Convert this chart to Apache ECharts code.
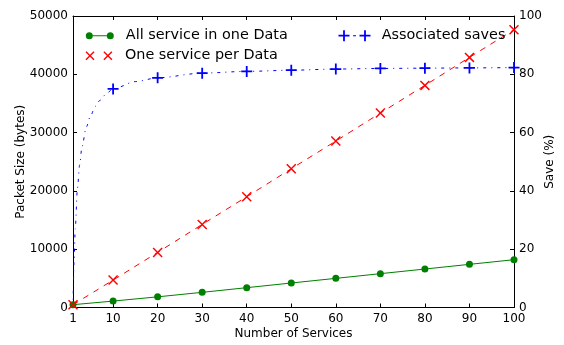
<!DOCTYPE html>
<html>
<head>
<meta charset="utf-8">
<script src="https://cdn.jsdelivr.net/npm/echarts@6/dist/echarts.min.js"></script>
<style>
  html, body { margin: 0; padding: 0; background: #fff; }
  #chart { width: 564px; height: 345px; }
</style>
</head>
<body>
<div id="chart"></div>
<script>
// Packet size for the two packing strategies, by number of services
const services = [1, 10, 20, 30, 40, 50, 60, 70, 80, 90, 100];
const allInOne = [480, 1100, 1830, 2600, 3400, 4200, 5000, 5800, 6600, 7400, 8200];
const perData  = [480, 4700, 9450, 14250, 19000, 23800, 28550, 33350, 38100, 42900, 47650];

// Saving in percent (right axis), sampled densely near the start of the curve
const savesAt = [1, 1.25, 1.5, 2, 2.5, 3, 4, 5, 6, 7, 8, 10, 15, 20, 30, 40, 50, 60, 70, 80, 90, 100];
const saves   = [0, 16, 27, 41, 49, 55, 62, 66, 69, 71, 72.7, 75, 77.5, 78.8, 80.4, 81, 81.4, 81.8, 82, 82.1, 82.2, 82.3];
const savesMarked = [10, 20, 30, 40, 50, 60, 70, 80, 90, 100];

const xTicks = [1, 10, 20, 30, 40, 50, 60, 70, 80, 90, 100];

const FONT = 'DejaVu Sans';
const GREEN = '#008000', RED = '#ff0000', BLUE = '#0000ff';

// --- small path builders for marker glyphs ---
const f = v => v.toFixed(2);
function bar(x1, y1, x2, y2, w) {
  const dx = x2 - x1, dy = y2 - y1, L = Math.hypot(dx, dy);
  const nx = -dy / L * w / 2, ny = dx / L * w / 2;
  return `M${f(x1 + nx)},${f(y1 + ny)}L${f(x2 + nx)},${f(y2 + ny)}L${f(x2 - nx)},${f(y2 - ny)}L${f(x1 - nx)},${f(y1 - ny)}Z`;
}
function cross(cx, cy, s, w) {
  const h = s / 2;
  return bar(cx - h, cy - h, cx + h, cy + h, w) + bar(cx - h, cy + h, cx + h, cy - h, w);
}
function plus(cx, cy, s, w) {
  const h = s / 2;
  return bar(cx - h, cy, cx + h, cy, w) + bar(cx, cy - h, cx, cy + h, w);
}
function dot(cx, cy, r) {
  return `M${f(cx - r)},${f(cy)}A${r},${r} 0 1 0 ${f(cx + r)},${f(cy)}A${r},${r} 0 1 0 ${f(cx - r)},${f(cy)}Z`;
}

const xSymbol = 'path://' + cross(5, 5, 10, 1.6);
const plusSymbol = 'path://' + plus(5.5, 5.5, 11, 1.8);

// legend handles: two markers joined by the series line
const greenIcon = 'path://' + dot(3.5, 3.5, 3.5) + bar(7, 3.5, 21, 3.5, 1) + dot(24.5, 3.5, 3.5);
const redIcon   = 'path://' + cross(4.5, 4.5, 9, 1.5) + cross(24.5, 4.5, 9, 1.5);
const blueIcon  = 'path://' + plus(5.5, 5.5, 11, 1.8) + bar(14.5, 5.5, 17.5, 5.5, 1) + plus(26.5, 5.5, 11, 1.8);

const legendText = { fontFamily: FONT, fontSize: 14.4, color: '#000', lineHeight: 16 };
function legendFor(name, icon, left, top, w, h, pad) {
  return {
    data: [{ name: name, icon: icon }],
    left: left, top: top, padding: 0,
    itemWidth: w, itemHeight: h,
    selectedMode: false,
    textStyle: Object.assign({ padding: [0, 0, 0, pad] }, legendText)
  };
}

const axisText = { fontFamily: FONT, fontSize: 12, color: '#000' };
const spine = { show: true, onZero: false, lineStyle: { color: '#000', width: 1 } };
const tickIn = { show: true, inside: true, length: 4, lineStyle: { color: '#000', width: 1 } };

const chart = echarts.init(document.getElementById('chart'), null, { renderer: 'canvas' });
chart.setOption({
  animation: false,
  backgroundColor: '#fff',
  grid: { left: 73, right: 48, top: 16, bottom: 36, containLabel: false },
  legend: [
    legendFor('All service in one Data', greenIcon, 85.8, 27.7, 28, 7, 7),
    legendFor('One service per Data', redIcon, 85.5, 47.7, 29, 9, 6.5),
    legendFor('Associated saves', blueIcon, 338.5, 27.7, 32, 11, 6.2)
  ],
  xAxis: [
    {
      type: 'value', min: 1, max: 100, position: 'bottom',
      name: 'Number of Services', nameLocation: 'middle', nameGap: 20.5, nameMoveOverlap: false,
      nameTextStyle: axisText,
      axisLine: spine,
      axisTick: Object.assign({ customValues: xTicks }, tickIn),
      axisLabel: Object.assign({ customValues: xTicks, margin: 5 }, axisText),
      splitLine: { show: false }
    },
    {
      type: 'value', min: 1, max: 100, position: 'top',
      axisLine: spine,
      axisTick: Object.assign({ customValues: xTicks }, tickIn),
      axisLabel: { show: false },
      splitLine: { show: false }
    }
  ],
  yAxis: [
    {
      type: 'value', min: 0, max: 50000, interval: 10000, position: 'left',
      name: 'Packet Size (bytes)', nameLocation: 'middle', nameGap: 46, nameMoveOverlap: false,
      nameTextStyle: axisText,
      axisLine: spine, axisTick: tickIn,
      axisLabel: Object.assign({ margin: 5, formatter: v => String(v) }, axisText),
      splitLine: { show: false }
    },
    {
      type: 'value', min: 0, max: 100, interval: 20, position: 'right',
      name: 'Save (%)', nameLocation: 'middle', nameGap: 30, nameMoveOverlap: false,
      nameTextStyle: axisText,
      axisLine: spine, axisTick: tickIn,
      axisLabel: Object.assign({ margin: 5, formatter: v => String(v) }, axisText),
      splitLine: { show: false }
    }
  ],
  series: [
    {
      name: 'All service in one Data', type: 'line',
      xAxisIndex: 0, yAxisIndex: 0,
      data: services.map((x, i) => [x, allInOne[i]]),
      symbol: 'circle', symbolSize: 7, showAllSymbol: true,
      itemStyle: { color: GREEN },
      lineStyle: { color: GREEN, width: 1 }
    },
    {
      name: 'One service per Data', type: 'line',
      xAxisIndex: 0, yAxisIndex: 0,
      data: services.map((x, i) => [x, perData[i]]),
      symbol: xSymbol, symbolSize: 10, showAllSymbol: true,
      itemStyle: { color: RED },
      lineStyle: { color: RED, width: 1, type: [6, 6] }
    },
    {
      name: 'Associated saves', type: 'line',
      xAxisIndex: 0, yAxisIndex: 1,
      smooth: 0.3, smoothMonotone: 'x',
      data: savesAt.map((x, i) => savesMarked.includes(x)
        ? { value: [x, saves[i]] }
        : { value: [x, saves[i]], symbol: 'none' }),
      symbol: plusSymbol, symbolSize: 11, showAllSymbol: true,
      itemStyle: { color: BLUE },
      lineStyle: { color: BLUE, width: 1, type: [3, 5, 1, 5] }
    }
  ]
});
</script>
</body>
</html>
